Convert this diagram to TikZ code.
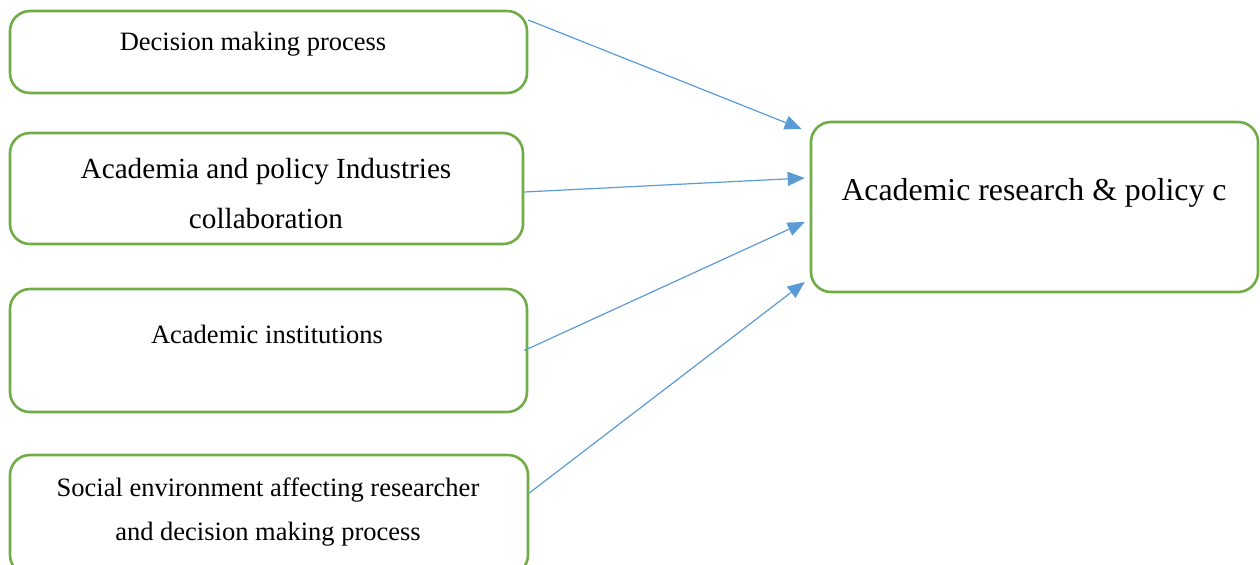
\documentclass[tikz,border=0pt]{standalone}
\usepackage{fontspec}
\setmainfont{Liberation Serif}
\usetikzlibrary{arrows.meta}
\definecolor{boxGreen}{RGB}{112,173,71}
\definecolor{linkBlue}{RGB}{91,155,213}

\begin{document}
\begin{tikzpicture}[x=0.5pt,y=-0.5pt,
    factor/.style={draw=boxGreen,line width=1.3pt,rounded corners=10pt,inner sep=0pt},
    link/.style={draw=linkBlue,line width=0.6pt,-{Triangle[length=8.5pt,width=7pt]}},
    small/.style={font=\fontsize{13.25}{22}\selectfont,align=center},
    medium/.style={font=\fontsize{14.6}{25}\selectfont,align=center},
    large/.style={font=\fontsize{15.9}{20}\selectfont,align=center}
  ]
  \useasboundingbox (0,0) rectangle (1260,564);
  \clip (0,0) rectangle (1260,564);

  % the four factors on the left
  \node[factor,minimum width=258.5pt,minimum height=41pt] (decision) at (268.5,52) {};
  \node[factor,minimum width=256.5pt,minimum height=55.5pt] (collab) at (266.5,188.5) {};
  \node[factor,minimum width=258.5pt,minimum height=61.5pt] (inst) at (268.5,350.5) {};
  \node[factor,minimum width=259pt,minimum height=60pt] (social) at (269,515) {};

  % the outcome box
  \node[factor,minimum width=223.5pt,minimum height=85pt] (target) at (1034.5,207) {};

  % texts sit in the upper half of the boxes
  \node[small] (decisionTxt) at (253,44) {Decision making process};
  \node[medium] (collabTxt) at (266,194) {Academia and policy Industries\\collaboration};
  \node[small] (instTxt) at (267,334) {Academic institutions};
  \node[small] (socialTxt) at (268,512) {Social environment affecting researcher\\and decision making process};
  \node[large] (targetTxt) at (1034,193) {Academic research \& policy c};

  % links
  \draw[link] ([yshift=16pt]decision.east) -- ([xshift=-4pt,yshift=39pt]target.west);
  \draw[link] ([yshift=-1.75pt]collab.east) -- ([xshift=-2.5pt,yshift=14.5pt]target.west);
  \draw[link] ([xshift=-2pt]inst.east) -- ([xshift=-2.5pt,yshift=-7.5pt]target.west);
  \draw[link] ([yshift=11pt]social.east) -- ([xshift=-2.5pt,yshift=-37.5pt]target.west);
\end{tikzpicture}
\end{document}
